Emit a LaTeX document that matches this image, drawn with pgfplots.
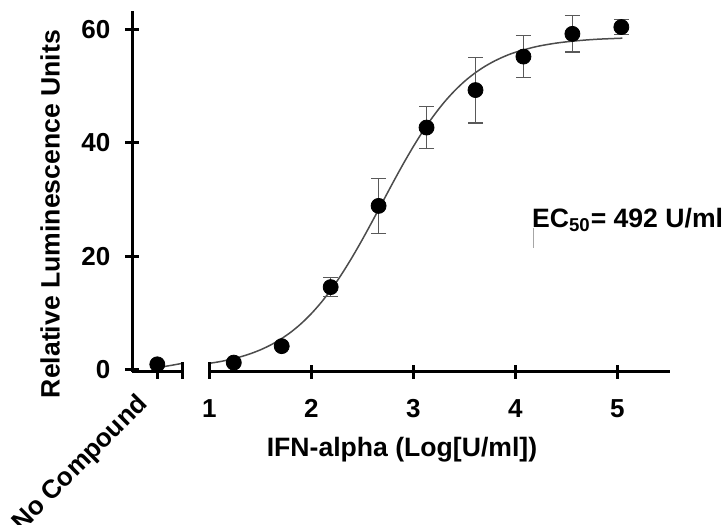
\documentclass[border=0pt]{standalone}
\usepackage{fontspec}
\setmainfont{Liberation Sans}
\usepackage{pgfplots}
\pgfplotsset{compat=1.18}

\definecolor{curvegray}{gray}{0.3}
\definecolor{errgray}{gray}{0.35}

\pgfplotsset{
  brk/.style={
    scale only axis, height=180.5pt, ymin=-0.3, ymax=63.28,
    tick style={line width=1.5pt, black},
    major tick length=7pt, tick align=outside,
    tick label style={font=\fontsize{13}{15}\selectfont\bfseries},
    /pgf/number format/assume math mode=true,
    clip=false,
  },
}

\begin{document}
\begin{tikzpicture}
\path[use as bounding box] (0,0) rectangle (362.5pt,262.5pt);

% left segment: no compound
\begin{axis}[brk, at={(66.15pt,76.65pt)}, anchor=south west, width=25pt,
    xmin=0, xmax=2, axis x line=bottom, axis y line=left,
    axis line style={-, line width=1.5pt},
    ytick={0,20,40,60}, xtick={1,2}, xticklabels={No Compound,},
    yticklabel style={xshift=-4pt},
    xticklabel style={xshift=-11pt, yshift=-5pt, rotate=45, anchor=north east, inner sep=1pt}]
\addplot[curvegray, line width=0.75pt] coordinates {(1.2,0.55) (1.6,0.85) (2,1.17)};
\addplot[only marks, mark=*, mark size=3.75pt, black] coordinates {(1,1.0)};
\end{axis}

% right segment: log dose
\begin{axis}[brk, at={(104.65pt,76.65pt)}, anchor=south west, width=230.35pt,
    xmin=1, xmax=5.517, axis x line=bottom, axis y line=none,
    axis line style={-, line width=1.5pt},
    ytick=\empty, xtick={1,2,3,4,5},
    xticklabel style={yshift=-7pt}]
\addplot[curvegray, line width=0.75pt, smooth] coordinates {
  (1.0,1.17) (1.1,1.46) (1.2,1.83) (1.3,2.29) (1.4,2.85) (1.5,3.54)
  (1.6,4.39) (1.7,5.43) (1.8,6.67) (1.9,8.16) (2.0,9.92) (2.1,11.96)
  (2.2,14.30) (2.3,16.94) (2.4,19.84) (2.5,22.96) (2.6,26.25) (2.7,29.62)
  (2.8,32.98) (2.9,36.25) (3.0,39.34) (3.1,42.21) (3.2,44.79) (3.3,47.09)
  (3.4,49.08) (3.5,50.80) (3.6,52.24) (3.7,53.45) (3.8,54.45) (3.9,55.28)
  (4.0,55.95) (4.2,56.93) (4.4,57.57) (4.6,57.98) (4.8,58.25) (5.05,58.44)};
\addplot[only marks, mark=*, mark size=3.75pt, black,
    error bars/.cd, y dir=both, y explicit,
    error bar style={errgray, line width=0.6pt},
    error mark options={errgray, rotate=90, mark size=3.75pt, line width=0.6pt}]
  table[x=x, y=y, y error=e] {
x     y     e
1.24  1.3   0.3
1.71  4.2   0.3
2.19  14.6  1.65
2.66  28.9  4.85
3.13  42.7  3.75
3.61  49.3  5.8
4.08  55.2  3.65
4.56  59.2  3.2
5.04  60.4  1.35
};
\end{axis}

% break marks: upper halves of the segment-end ticks
\draw[line width=1.5pt] (91.15pt,76.65pt) -- (91.15pt,81.65pt);
\draw[line width=1.5pt] (104.65pt,76.65pt) -- (104.65pt,81.65pt);

\node[rotate=90, font=\fontsize{13.3}{15}\selectfont\bfseries] at (25pt,155.5pt) {Relative Luminescence Units};
\node[font=\fontsize{13.3}{15}\selectfont\bfseries] at (201pt,37.5pt) {IFN-alpha (Log[U/ml])};
\node[anchor=base west, inner sep=0pt, font=\fontsize{13.3}{15}\selectfont\bfseries] at (265.85pt,148.85pt) {EC\textsubscript{50}= 492 U/ml};
\draw[gray!70, line width=0.4pt] (266.6pt,148.5pt) -- (266.6pt,138.5pt);
\end{tikzpicture}
\end{document}
